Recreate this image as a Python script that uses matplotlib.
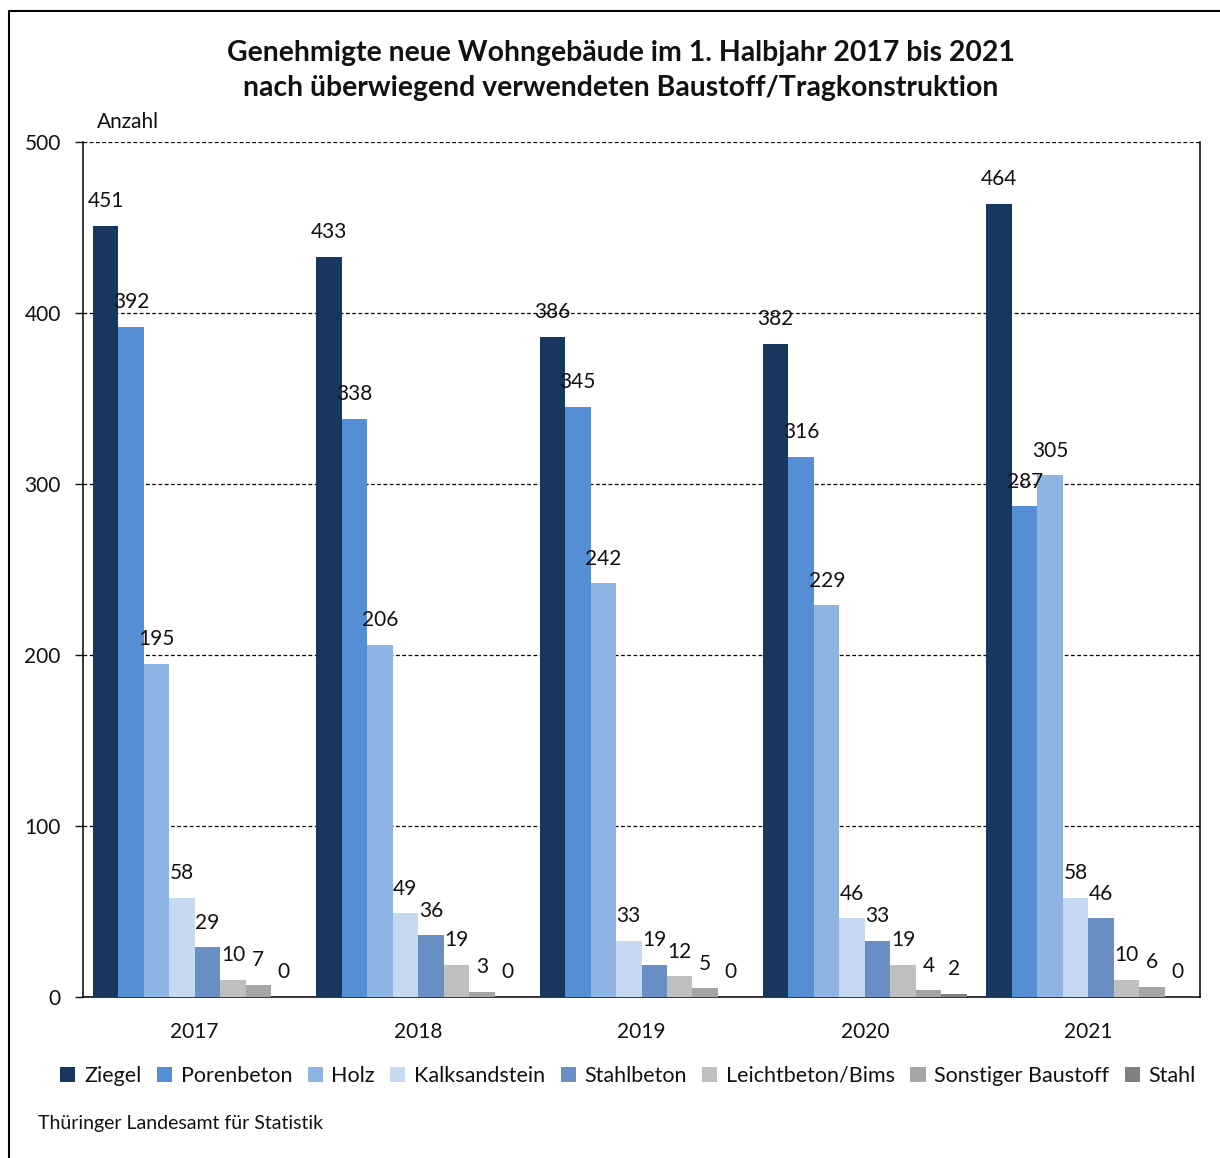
import matplotlib
matplotlib.use('Agg')
import matplotlib.pyplot as plt
from matplotlib.lines import Line2D
import numpy as np

plt.rcParams['font.family'] = ['Lato', 'DejaVu Sans']

# --- Data ---
years = ['2017', '2018', '2019', '2020', '2021']
series = ['Ziegel', 'Porenbeton', 'Holz', 'Kalksandstein', 'Stahlbeton',
          'Leichtbeton/Bims', 'Sonstiger Baustoff', 'Stahl']
ziegel = [451, 433, 386, 382, 464]
porenbeton = [392, 338, 345, 316, 287]
holz = [195, 206, 242, 229, 305]
kalksandstein = [58, 49, 33, 46, 58]
stahlbeton = [29, 36, 19, 33, 46]
leichtbeton = [10, 19, 12, 19, 10]
sonstiger = [7, 3, 5, 4, 6]
stahl = [0, 0, 0, 2, 0]

values = [ziegel, porenbeton, holz, kalksandstein, stahlbeton, leichtbeton, sonstiger, stahl]
COLORS = ['#17375E', '#558ED5', '#8EB4E3', '#C6D9F1', '#6A8FC4', '#BFBFBF', '#A6A6A6', '#808080']
TEXT = '#111111'

fig = plt.figure(figsize=(12.2, 11.58), dpi=100)
ax = fig.add_axes([83 / 1220, 161 / 1158, 1117 / 1220, 855 / 1158])

x = np.arange(len(years))
width = 0.114
n = len(series)
for i, (name, vals) in enumerate(zip(series, values)):
    offset = (i - (n - 1) / 2) * width
    rects = ax.bar(x + offset, vals, width=width, color=COLORS[i], label=name, zorder=3)
    for r, v in zip(rects, vals):
        ax.annotate(str(v), (r.get_x() + r.get_width() / 2, v), xytext=(0, 10.5),
                    textcoords='offset points', ha='center', va='bottom',
                    fontsize=15, color=TEXT, zorder=4)

ax.set_xlim(-0.5, len(years) - 0.5)
ax.set_ylim(0, 500)
ax.set_yticks([0, 100, 200, 300, 400, 500])
ax.set_xticks(x)
ax.set_xticklabels(years)
ax.tick_params(axis='x', length=0, pad=18, labelsize=15, colors=TEXT)
ax.tick_params(axis='y', length=6, width=1, pad=10, labelsize=15, colors=TEXT)

ax.grid(axis='y', linestyle=(0, (3, 2)), linewidth=0.9, color='black', zorder=0)
ax.spines['top'].set_visible(False)
for s in ['left', 'bottom', 'right']:
    ax.spines[s].set_color('black')
    ax.spines[s].set_linewidth(1.1)

# Titles
fig.text(620.5 / 1220, 1 - 70.5 / 1158,
         'Genehmigte neue Wohngebäude im 1. Halbjahr 2017 bis 2021\n'
         'nach überwiegend verwendeten Baustoff/Tragkonstruktion',
         ha='center', va='center', fontsize=20.4, fontweight='bold', linespacing=1.47, color=TEXT)
fig.text(97 / 1220, 1 - 122 / 1158, 'Anzahl', ha='left', va='center', fontsize=15, color=TEXT)

# Legend
fig.legend(loc='center', bbox_to_anchor=(628 / 1220, 1 - 1076 / 1158), ncol=8, frameon=False,
           fontsize=15.5, handlelength=0.7, handleheight=0.7, handletextpad=0.4,
           columnspacing=0.72, labelcolor=TEXT)

fig.text(38 / 1220, 1 - 1123 / 1158, 'Thüringer Landesamt für Statistik',
         ha='left', va='center', fontsize=14, color=TEXT)

# Outer frame (left and top edges)
fig.add_artist(Line2D([9 / 1220, 9 / 1220, 1.0], [0.0, 1 - 11 / 1158, 1 - 11 / 1158],
                      transform=fig.transFigure, color='black', linewidth=1.5))

fig.savefig('out.png', dpi=100)
